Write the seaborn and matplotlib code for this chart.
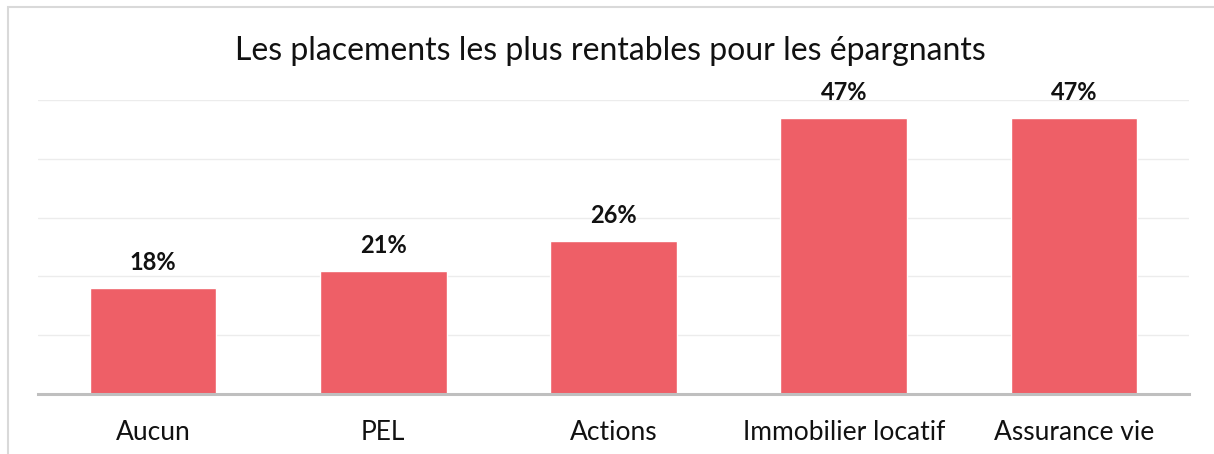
import matplotlib
matplotlib.use("Agg")
import matplotlib.pyplot as plt
import seaborn as sns
import pandas as pd

# Données du graphique
placements = ["Aucun", "PEL", "Actions", "Immobilier locatif", "Assurance vie"]
pourcentages = [18, 21, 26, 47, 47]
titre = "Les placements les plus rentables pour les épargnants"

df = pd.DataFrame({"placement": placements, "pct": pourcentages})

sns.set_theme(style="white")
plt.rcParams["font.family"] = ["Lato", "DejaVu Sans"]

fig = plt.figure(figsize=(12.14, 4.54), dpi=100)
ax = fig.add_axes([0.0313, 0.1322, 0.9481, 0.6475])

sns.barplot(data=df, x="placement", y="pct", color="#EE5F67", saturation=1,
            width=0.55, ax=ax)

ax.set_ylim(0, 50)
ax.set_yticks(range(0, 51, 10))
ax.yaxis.grid(True, color="#ececec", linewidth=1)
ax.set_axisbelow(True)
ax.tick_params(axis="y", left=False, labelleft=False)
ax.tick_params(axis="x", bottom=False, pad=13, labelsize=19, colors="#111111")
for s in ["top", "right", "left"]:
    ax.spines[s].set_visible(False)
ax.spines["bottom"].set_color("#bfbfbf")
ax.spines["bottom"].set_linewidth(2.2)
ax.set_xlabel("")
ax.set_ylabel("")

# Étiquettes de valeurs
for i, v in enumerate(pourcentages):
    ax.annotate(f"{v}%", (i, v), xytext=(0, 10), textcoords="offset points",
                ha="center", va="bottom", fontsize=17, fontweight="bold",
                color="#111111")

fig.text(0.503, 0.868, titre, ha="center", va="baseline", fontsize=23,
         color="#111111")

# Cadre du graphique
cadre = plt.Rectangle((8 / 1214, -0.05), 1.1, 1 - 7 / 454 + 0.05,
                      transform=fig.transFigure, fill=False,
                      edgecolor="#d9d9d9", linewidth=1.5)
fig.patches.append(cadre)

fig.savefig("out.png", dpi=100)
